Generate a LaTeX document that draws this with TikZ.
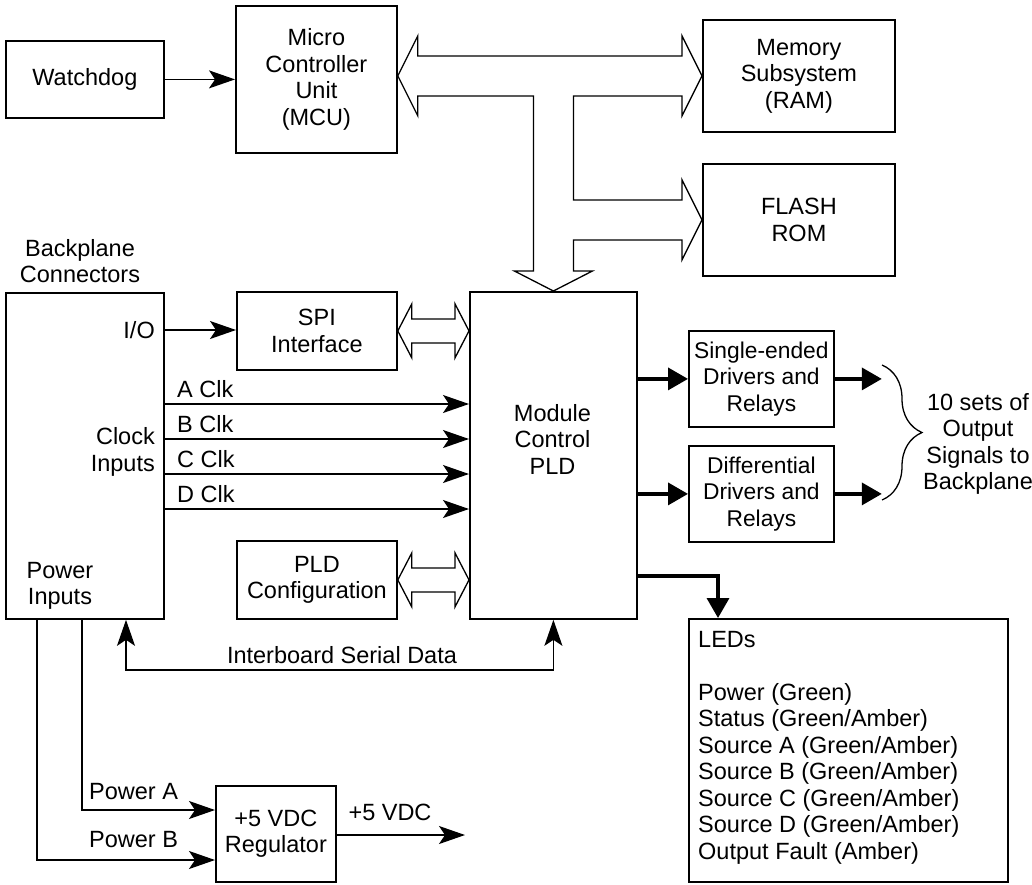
\documentclass[tikz,border=0pt]{standalone}
\usepackage{fontspec}
\setmainfont{Liberation Sans}
\usetikzlibrary{arrows.meta,calc,decorations.pathreplacing}

\begin{document}
\begin{tikzpicture}[x=1pt,y=-1pt,
  every node/.style={font=\fontsize{23.5}{26.5}\selectfont},
  box/.style={draw,line width=1.8pt,inner sep=0pt,align=center,anchor=north west},
  txt/.style={inner sep=0pt,align=center},
  drvfont/.style={font=\fontsize{22.8}{26.5}\selectfont},
  conn/.style={line width=1.3pt,-{Stealth[length=26pt,width=18pt,inset=6pt]}},
  dconn/.style={line width=1.3pt,{Stealth[length=26pt,width=18pt,inset=6pt]}-{Stealth[length=26pt,width=18pt,inset=6pt]}},
  boldarrow/.style={line width=3.5pt,-{Triangle[length=20pt,width=22pt]}},
  hollow/.style={draw,line width=1.3pt,fill=white,line join=miter},
  bracestyle/.style={line width=1.3pt,decorate,decoration={brace,amplitude=40pt,aspect=0.5}}]

\fill[white] (0,0) rectangle (1032,884);
\useasboundingbox (0,0) rectangle (1032,884);

% boxes
\node[box,minimum width=158pt,minimum height=77pt] (wd) at (5,40) {Watchdog};
\node[box,minimum width=161pt,minimum height=147pt] (mcu) at (235,5) {};
\node[txt] (mcutxt) at (mcu.center) {Micro\\Controller\\Unit\\(MCU)};
\node[box,minimum width=192pt,minimum height=112pt] (mem) at (702,19) {Memory\\Subsystem\\(RAM)};
\node[box,minimum width=192pt,minimum height=112pt] (flash) at (702,163) {FLASH\\ROM};
\node[box,minimum width=158pt,minimum height=326pt] (bp) at (5,292) {};
\node[txt] (bplabel) at (80,261) {Backplane\\Connectors};
\node[box,minimum width=160pt,minimum height=78pt] (spi) at (236,291) {SPI\\Interface};
\node[box,minimum width=160pt,minimum height=78pt] (pldcfg) at (236,540) {PLD\\Configuration};
\node[box,minimum width=167pt,minimum height=327pt] (pld) at (469,291) {};
\node[txt] (pldtxt) at (552.5,439) {Module\\Control\\PLD};
\node[box,drvfont,minimum width=145pt,minimum height=96pt] (se) at (688,330) {Single-ended\\Drivers and\\Relays};
\node[box,drvfont,minimum width=145pt,minimum height=96pt] (diff) at (688,445) {Differential\\Drivers and\\Relays};
\node[box,minimum width=319pt,minimum height=263pt] (leds) at (688,618) {};
\node[txt,align=left,anchor=north west] (ledtxt) at (698,631) {LEDs\\[26.5pt]Power (Green)\\Status (Green/Amber)\\Source A (Green/Amber)\\Source B (Green/Amber)\\Source C (Green/Amber)\\Source D (Green/Amber)\\Output Fault (Amber)};
\node[box,minimum width=120pt,minimum height=96pt] (reg) at (215,785) {+5 VDC\\Regulator};

% labels inside backplane
\node[txt,anchor=east] (io) at (155,330) {I/O};
\node[txt,align=right,anchor=east] (clk) at (155,452) {Clock\\Inputs};
\node[txt] (pwr) at (60,586) {Power\\Inputs};

% watchdog -> MCU
\draw[conn] (wd.east) -- (wd.east -| mcu.west);

% I/O -> SPI
\draw[conn] (bp.east |- io) -- (spi.west |- io);

% clocks
\coordinate (yA) at (0,404);
\coordinate (yB) at (0,439);
\coordinate (yC) at (0,474);
\coordinate (yD) at (0,509);
\draw[conn] (bp.east |- yA) -- (pld.west |- yA);
\draw[conn] (bp.east |- yB) -- (pld.west |- yB);
\draw[conn] (bp.east |- yC) -- (pld.west |- yC);
\draw[conn] (bp.east |- yD) -- (pld.west |- yD);
\node[txt,anchor=west] (la) at (177,389) {A Clk};
\node[txt,anchor=west] (lb) at (177,424) {B Clk};
\node[txt,anchor=west] (lc) at (177,459) {C Clk};
\node[txt,anchor=west] (ld) at (177,494) {D Clk};

% interboard serial data
\coordinate (ib) at (126,670);
\draw[dconn] (ib |- bp.south) -- (ib) -- (ib -| pld.south) -- (pld.south);
\node[txt] (iblabel) at (342,655) {Interboard Serial Data};

% power
\coordinate (pA) at (82,810);
\coordinate (pB) at (37,860);
\draw[conn] (pA |- bp.south) -- (pA) -- (pA -| reg.west);
\draw[conn] (pB |- bp.south) -- (pB) -- (pB -| reg.west);
\node[txt,anchor=west] (lpa) at (89,792) {Power A};
\node[txt,anchor=west] (lpb) at (89,840) {Power B};
\coordinate (vout) at (465,835);
\draw[conn] (reg.east |- vout) -- (vout);
\node[txt] (lvdc) at (390,812) {+5 VDC};

% drivers
\coordinate (seout) at ($(se.east)+(47,0)$);
\coordinate (diffout) at ($(diff.east)+(47,0)$);
\draw[boldarrow] (pld.east |- se.west) -- (se.west);
\draw[boldarrow] (pld.east |- diff.west) -- (diff.west);
\draw[boldarrow] (se.east) -- (seout);
\draw[boldarrow] (diff.east) -- (diffout);
\coordinate (br1) at (882,365);
\coordinate (br2) at (882,500);
\draw[bracestyle] (br1) -- (br2);
\node[txt] (outtxt) at (978,444) {10 sets of\\Output\\Signals to\\Backplane};

% LEDs
\coordinate (ledc) at (718,576);
\draw[boldarrow,line join=miter] (ledc -| pld.east) -- (ledc) -- (ledc |- leds.north);

% hollow bus MCU / RAM / FLASH / PLD
\coordinate (A) at (mcu.east |- mem.west);
\coordinate (vr) at ($(pld.north)+(20,0)$);
\coordinate (vl) at ($(pld.north)+(-20,0)$);
\path[hollow] (A) -- ($(A)+(20,-40)$) -- ($(A)+(20,-20)$)
  -- ($(mem.west)+(-20,-20)$) -- ($(mem.west)+(-20,-40)$) -- (mem.west)
  -- ($(mem.west)+(-20,40)$) -- ($(mem.west)+(-20,20)$)
  -- (vr |- {$(mem.west)+(0,20)$})
  -- (vr |- {$(flash.west)+(0,-20)$})
  -- ($(flash.west)+(-20,-20)$) -- ($(flash.west)+(-20,-40)$) -- (flash.west)
  -- ($(flash.west)+(-20,40)$) -- ($(flash.west)+(-20,20)$)
  -- (vr |- {$(flash.west)+(0,20)$})
  -- ($(pld.north)+(20,-20)$) -- ($(pld.north)+(39,-20)$) -- (pld.north)
  -- ($(pld.north)+(-39,-20)$) -- ($(pld.north)+(-20,-20)$)
  -- (vl |- {$(mem.west)+(0,20)$})
  -- ($(A)+(20,20)$) -- ($(A)+(20,40)$) -- cycle;

% SPI <-> PLD
\coordinate (s1) at (spi.east);
\coordinate (s2) at (spi.east -| pld.west);
\path[hollow] (s1) -- ++(14,-27) -- ++(0,15) -- ($(s2)+(-14,-12)$) -- ++(0,-15) -- (s2)
  -- ++(-14,27) -- ++(0,-15) -- ($(s1)+(14,12)$) -- ++(0,15) -- cycle;

% PLD config <-> PLD
\coordinate (c1) at (pldcfg.east);
\coordinate (c2) at (pldcfg.east -| pld.west);
\path[hollow] (c1) -- ++(14,-27) -- ++(0,15) -- ($(c2)+(-14,-12)$) -- ++(0,-15) -- (c2)
  -- ++(-14,27) -- ++(0,-15) -- ($(c1)+(14,12)$) -- ++(0,15) -- cycle;

\end{tikzpicture}
\end{document}
